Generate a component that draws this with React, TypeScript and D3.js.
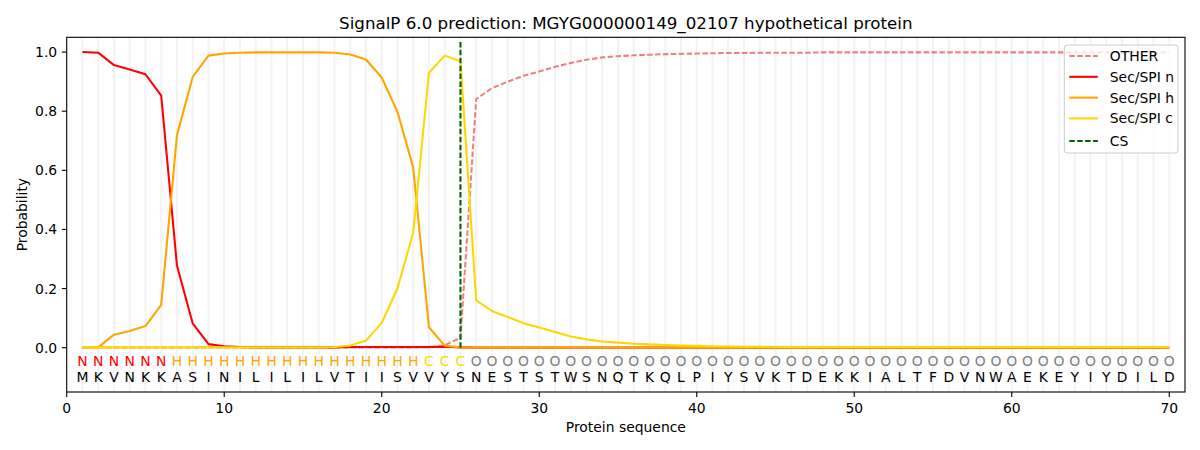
import * as d3 from 'd3';

const sequence = 'MKVNKKASINILILILVTIISVVYSNESTSTWSNQTKQLPIYSVKTDEKKIALTFDVNWAEKEYIYDILD'.split('');
const regionLabels = 'NNNNNNHHHHHHHHHHHHHHHHCCCOOOOOOOOOOOOOOOOOOOOOOOOOOOOOOOOOOOOOOOOOOOOO'.split('');

const otherProb = [
	0.001, 0.001, 0.001, 0.001, 0.001, 0.001, 0.001, 0.001, 0.001, 0.001,
	0.001, 0.001, 0.001, 0.001, 0.001, 0.001, 0.001, 0.001, 0.001, 0.001,
	0.001, 0.001, 0.002, 0.008, 0.034, 0.841, 0.878, 0.900, 0.920, 0.934,
	0.950, 0.963, 0.974, 0.982, 0.986, 0.989, 0.991, 0.993, 0.994, 0.995,
	0.996, 0.997, 0.997, 0.998, 0.998, 0.998, 0.998, 0.999, 0.999, 0.999,
	0.999, 0.999, 0.999, 0.999, 0.999, 0.999, 0.999, 0.999, 0.999, 0.999,
	0.999, 0.999, 0.999, 0.999, 0.999, 0.999, 0.999, 0.999, 0.999, 0.999,
];
const secN = [
	1.0, 0.998, 0.956, 0.941, 0.925, 0.853, 0.278, 0.082, 0.012, 0.005,
	0.002, 0.001, 0.001, 0.001, 0.001, 0.001, 0.001, 0.002, 0.002, 0.002,
	0.002, 0.002, 0.002, 0.003, 0.001, 0, 0, 0, 0, 0,
	0, 0, 0, 0, 0, 0, 0, 0, 0, 0,
	0, 0, 0, 0, 0, 0, 0, 0, 0, 0,
	0, 0, 0, 0, 0, 0, 0, 0, 0, 0,
	0, 0, 0, 0, 0, 0, 0, 0, 0, 0,
];
const secH = [
	0, 0.001, 0.044, 0.056, 0.073, 0.145, 0.719, 0.916, 0.988, 0.995,
	0.998, 0.999, 0.999, 0.999, 0.999, 0.999, 0.998, 0.992, 0.975, 0.914,
	0.798, 0.609, 0.069, 0.007, 0.001, 0, 0, 0, 0, 0,
	0, 0, 0, 0, 0, 0, 0, 0, 0, 0,
	0, 0, 0, 0, 0, 0, 0, 0, 0, 0,
	0, 0, 0, 0, 0, 0, 0, 0, 0, 0,
	0, 0, 0, 0, 0, 0, 0, 0, 0, 0,
];
const secC = [
	0.001, 0.001, 0.001, 0.001, 0.001, 0.001, 0.001, 0.001, 0.001, 0.001,
	0.001, 0.001, 0.001, 0.001, 0.001, 0.001, 0.002, 0.007, 0.024, 0.084,
	0.201, 0.389, 0.930, 0.988, 0.969, 0.160, 0.124, 0.104, 0.083, 0.068,
	0.053, 0.038, 0.028, 0.021, 0.017, 0.013, 0.011, 0.009, 0.007, 0.006,
	0.005, 0.004, 0.003, 0.003, 0.002, 0.002, 0.002, 0.002, 0.002, 0.002,
	0.002, 0.002, 0.002, 0.002, 0.002, 0.002, 0.002, 0.002, 0.002, 0.002,
	0.002, 0.002, 0.002, 0.002, 0.002, 0.002, 0.002, 0.002, 0.002, 0.002,
];
const cleavageSite = 25;

const xTicks = [0, 10, 20, 30, 40, 50, 60, 70];
const yTicks = [0, 0.2, 0.4, 0.6, 0.8, 1.0];

const series = [
	{ name: 'OTHER', values: otherProb, color: '#f08080', dash: '5.5,2.4' },
	{ name: 'Sec/SPI n', values: secN, color: '#ff0000', dash: null },
	{ name: 'Sec/SPI h', values: secH, color: '#ffa500', dash: null },
	{ name: 'Sec/SPI c', values: secC, color: '#ffd700', dash: null },
];

const labelColor: Record<string, string> = { N: '#ff0000', H: '#ffa500', C: '#ffd700', O: '#808080' };

const font = 'DejaVu Sans, sans-serif';

export default function App() {
	const width = 1200;
	const height = 450;
	const margin = { top: 37.3, right: 15, bottom: 58, left: 66.7 };
	const innerW = width - margin.left - margin.right;
	const innerH = height - margin.top - margin.bottom;

	const x = d3.scaleLinear().domain([0, 71]).range([0, innerW]);
	const y = d3.scaleLinear().domain([-0.15, 1.05]).range([innerH, 0]);

	const positions = sequence.map((_, i) => i + 1);
	const line = d3.line<number>()
		.x((_, i) => x(i + 1))
		.y(d => y(d));

	const legendItems = [
		...series.map(s => ({ name: s.name, color: s.color, dash: s.dash })),
		{ name: 'CS', color: '#006400', dash: '5.5,2.4' },
	];

	return (
		<svg width={width} height={height} style={{ position: 'absolute', left: 0, top: 0, background: '#fff' }} fontFamily={font}>
			<text x={margin.left + innerW / 2} y={23} textAnchor="middle" dominantBaseline="central" fontSize={16.7}>
				SignalP 6.0 prediction: MGYG000000149_02107 hypothetical protein
			</text>
			<g transform={`translate(${margin.left},${margin.top})`}>
				{positions.map(p => (
					<line key={'g' + p} x1={x(p)} x2={x(p)} y1={0} y2={innerH} stroke="#f3f3f3" strokeWidth={2} />
				))}

				{series.map(s => (
					<path key={s.name} d={line(s.values) ?? ''} fill="none" stroke={s.color} strokeWidth={2.08}
						strokeDasharray={s.dash ?? undefined} strokeLinejoin="round" />
				))}

				<line x1={x(cleavageSite)} x2={x(cleavageSite)} y1={y(0)} y2={y(1.038)} stroke="#006400" strokeWidth={2.08} strokeDasharray="5.5,2.4" />

				{positions.map((p, i) => (
					<g key={'l' + p}>
						<text x={x(p)} y={y(-0.045)} textAnchor="middle" dominantBaseline="central" fontSize={13.9}
							fill={labelColor[regionLabels[i]]}>{regionLabels[i]}</text>
						<text x={x(p)} y={y(-0.1)} textAnchor="middle" dominantBaseline="central" fontSize={13.9}
							fill="#000">{sequence[i]}</text>
					</g>
				))}

				{/* spines */}
				<rect x={0} y={0} width={innerW} height={innerH} fill="none" stroke="#000" strokeWidth={1.1} />

				{xTicks.map(t => (
					<g key={'xt' + t} transform={`translate(${x(t)},${innerH})`}>
						<line y2={4.9} stroke="#000" strokeWidth={1.1} />
						<text y={15.5} textAnchor="middle" dominantBaseline="central" fontSize={13.9}>{t}</text>
					</g>
				))}
				{yTicks.map(t => (
					<g key={'yt' + t} transform={`translate(0,${y(t)})`}>
						<line x2={-4.9} stroke="#000" strokeWidth={1.1} />
						<text x={-9.5} textAnchor="end" dominantBaseline="central" fontSize={13.9}>{t.toFixed(1)}</text>
					</g>
				))}

				<text x={innerW / 2} y={innerH + 35.5} textAnchor="middle" dominantBaseline="central" fontSize={13.9}>Protein sequence</text>
				<text transform={`translate(${21.7 - margin.left},${innerH / 2}) rotate(-90)`} textAnchor="middle" dominantBaseline="central" fontSize={13.9}>Probability</text>

				{/* legend */}
				<g transform={`translate(${1064.3 - margin.left},${45 - margin.top})`}>
					<rect x={0} y={0} width={113.7} height={108} rx={3} fill="#fff" fillOpacity={0.8} stroke="#cccccc" strokeWidth={1} />
					{legendItems.map((item, i) => {
						const cy = 11 + i * 20.8 + (item.name === 'CS' ? 1.8 : 0);
						return (
							<g key={item.name} transform={`translate(0,${cy})`}>
								<line x1={5} x2={33.5} stroke={item.color} strokeWidth={2.08} strokeDasharray={item.dash ?? undefined} />
								<text x={45.5} dominantBaseline="central" fontSize={13.9}>{item.name}</text>
							</g>
						);
					})}
				</g>
			</g>
		</svg>
	);
}
